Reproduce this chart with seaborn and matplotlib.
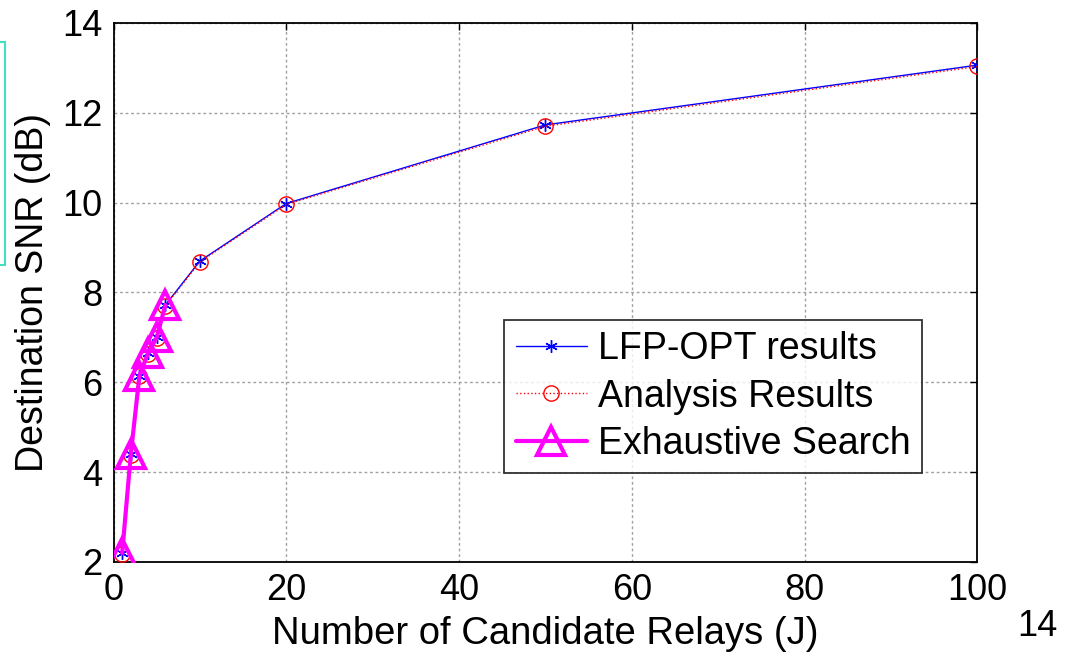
import matplotlib
matplotlib.use("Agg")
import matplotlib.pyplot as plt
import matplotlib.patches as mpatches
import numpy as np
import pandas as pd
import seaborn as sns

# Number of candidate relays and destination SNR (dB)
relays = [1, 2, 3, 4, 5, 6, 10, 20, 50, 100]
lfp_opt = [2.20, 4.40, 6.15, 6.65, 7.00, 7.72, 8.70, 9.98, 11.73, 13.06]
analysis = [2.18, 4.38, 6.13, 6.63, 6.98, 7.70, 8.68, 9.96, 11.70, 13.03]
exh_relays = [1, 2, 3, 4, 5, 6]
exhaustive = [2.20, 4.40, 6.15, 6.65, 7.00, 7.72]

x_ticks = [0, 20, 40, 60, 80, 100]
y_ticks = [2, 4, 6, 8, 10, 12, 14]

sns.set_style("white")
plt.rcParams["font.family"] = ["Liberation Sans", "DejaVu Sans"]
plt.rcParams["text.color"] = "black"
plt.rcParams["axes.labelcolor"] = "black"
plt.rcParams["xtick.color"] = "black"
plt.rcParams["ytick.color"] = "black"

fig = plt.figure(figsize=(10.69, 6.55), dpi=100)
ax = fig.add_axes([0.1062, 0.142, 0.808, 0.823])

df_lfp = pd.DataFrame({"J": relays, "SNR": lfp_opt})
df_ana = pd.DataFrame({"J": relays, "SNR": analysis})
df_exh = pd.DataFrame({"J": exh_relays, "SNR": exhaustive})

sns.lineplot(data=df_lfp, x="J", y="SNR", ax=ax, color="#0000ff", lw=1.0,
             marker=(6, 2, 0), markersize=9, markeredgewidth=1.0,
             markeredgecolor="#0000ff", label="LFP-OPT results", zorder=3)
sns.lineplot(data=df_ana, x="J", y="SNR", ax=ax, color="#ff0000", lw=1.0,
             linestyle=":", marker="o", markersize=11, markerfacecolor="none",
             markeredgewidth=1.0, markeredgecolor="#ff0000",
             label="Analysis Results", zorder=4)
sns.lineplot(data=df_exh, x="J", y="SNR", ax=ax, color="#ff00ff", lw=3.0,
             marker="^", markersize=20, markerfacecolor="none",
             markeredgewidth=3.0, markeredgecolor="#ff00ff",
             label="Exhaustive Search", zorder=5)

ax.set_xlim(0, 100)
ax.set_ylim(2, 14)
ax.set_xticks(x_ticks)
ax.set_yticks(y_ticks)
ax.grid(True, color="#a0a0a0", linestyle=(0, (2, 2)), linewidth=1.0)
for sp in ax.spines.values():
    sp.set_color("black")
    sp.set_linewidth(1.3)
ax.tick_params(direction="in", length=5, width=1, labelsize=26, pad=8,
               top=True, right=True, colors="black")
ax.set_xlabel("Number of Candidate Relays (J)", fontsize=27.5, labelpad=6,
              color="black")
ax.set_ylabel("Destination SNR (dB)", fontsize=27, labelpad=8, color="black")

leg = ax.legend(loc="lower right", bbox_to_anchor=(0.936, 0.165),
                borderaxespad=0, fontsize=27, frameon=True, fancybox=False,
                edgecolor="black", handlelength=1.9, handletextpad=0.3,
                labelspacing=0.3, borderpad=0.3)
leg.get_frame().set_linewidth(1.3)
for t in leg.get_texts():
    t.set_color("black")

# Bracket at the left edge and page number
fig.patches.append(mpatches.Rectangle((-20, 390), 25, 223, transform=None,
                                      fill=False, edgecolor="#40e0c0", lw=1.5))
fig.text(1037 / 1069, (655 - 626) / 655, "14", fontsize=26, ha="center",
         va="center", color="black")

fig.savefig("out.png", dpi=100)
